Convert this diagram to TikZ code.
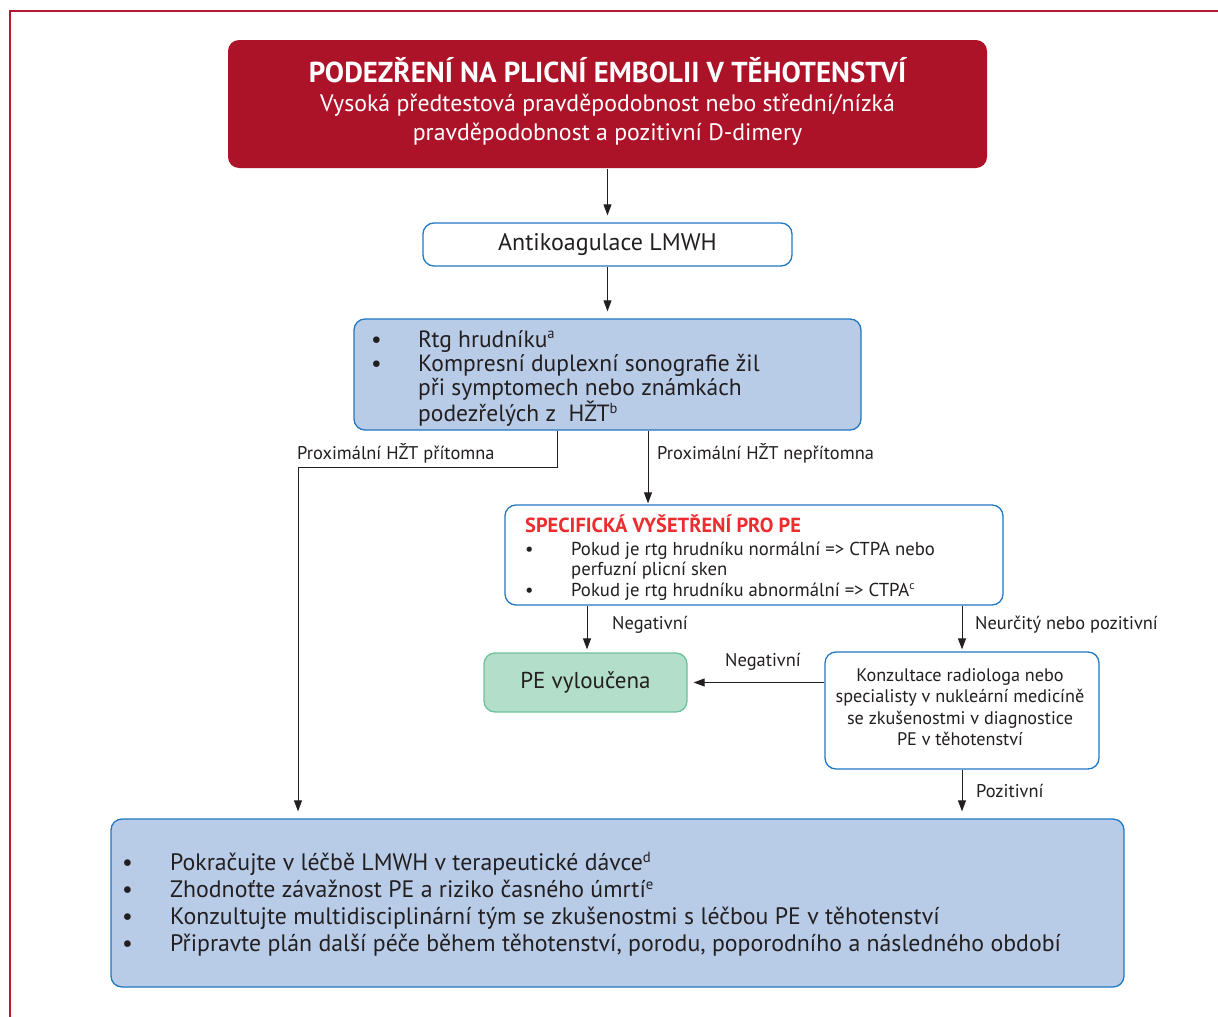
\documentclass[tikz,border=0pt]{standalone}
\usepackage{fontspec}
\usepackage{graphicx}
\setmainfont{PT Sans}
\usetikzlibrary{arrows.meta,calc}

\definecolor{escred}{HTML}{AD1328}
\definecolor{framered}{HTML}{B3182F}
\definecolor{alertred}{HTML}{EC2C2E}
\definecolor{boxblue}{HTML}{2079C2}
\definecolor{paleblue}{HTML}{B8CCE8}
\definecolor{greenedge}{HTML}{6CC29A}
\definecolor{palegreen}{HTML}{B3DEC9}
\definecolor{ink}{HTML}{231F20}

% bullet with hanging indent
\newcommand\bulA{\makebox[47pt][l]{•}}
\newcommand\bulB{\makebox[46pt][l]{•}}
\newcommand\bulC{\makebox[48pt][l]{•}}
% small footnote mark
\newcommand\fnmark[1]{\raisebox{0.7ex}{\scalebox{0.62}{#1}}}

\begin{document}
\begin{tikzpicture}[x=1pt,y=-1pt,
  txt/.style={text=ink, inner sep=0pt},
  flowbox/.style={rectangle, rounded corners=11pt, line width=1.3pt, inner sep=0pt},
  whitebox/.style={flowbox, draw=boxblue, fill=white},
  bluebox/.style={flowbox, draw=boxblue, fill=paleblue},
  greenbox/.style={flowbox, draw=greenedge, fill=palegreen},
  redbox/.style={flowbox, fill=escred},
  arr/.style={draw=ink, line width=1pt, -{Triangle[width=8pt,length=11pt]}},
  lbl/.style={txt, anchor=west, font=\fontsize{18.4}{22}\selectfont},
]
\useasboundingbox (0,0) rectangle (1218,1017);
\fill[white] (0,0) rectangle (1218,1017);

% page frame
\draw[framered, line width=2pt] (10,1017) -- (10,11) -- (1218,11);

% boxes
\node[redbox, minimum width=759pt, minimum height=128pt] (susp) at (607.5,104) {};
\node[whitebox, minimum width=369pt, minimum height=43pt] (anti) at (607.5,244.5) {};
\node[bluebox, minimum width=507pt, minimum height=111pt] (diag) at (607.5,374.5) {};
\node[whitebox, minimum width=498pt, minimum height=100pt] (spec) at (754,555) {};
\node[greenbox, minimum width=203pt, minimum height=59pt] (excl) at (585.5,682.5) {};
\node[whitebox, minimum width=274pt, minimum height=117pt] (cons) at (962,710.5) {};
\node[bluebox, minimum width=1013pt, minimum height=168pt] (treat) at (617.5,903) {};

% box texts
\node[txt, text=white, align=center, font=\fontsize{23.8}{29}\selectfont] (susptxt) at (607.5,101)
  {{\fontsize{28.8}{29}\selectfont\bfseries PODEZŘENÍ NA PLICNÍ EMBOLII V TĚHOTENSTVÍ}\\
   Vysoká předtestová pravděpodobnost nebo střední/nízká\\
   pravděpodobnost a pozitivní D-dimery};

\node[txt, font=\fontsize{24}{28}\selectfont] (antitxt) at (anti.center) {Antikoagulace LMWH};

\node[txt, anchor=north west, align=left, font=\fontsize{23.5}{24}\selectfont] (diagtxt) at (371,330)
  {\bulA Rtg hrudníku\fnmark{a}\\
   \bulA Kompresní duplexní sonografie žil\\
   \hspace*{47pt}při symptomech nebo známkách\\
   \hspace*{47pt}podezřelých z\ \ HŽT\fnmark{b}};

\node[txt, anchor=north west, align=left, font=\fontsize{18.7}{20.5}\selectfont] (spectxt) at (525,515)
  {{\fontsize{20.4}{20.5}\selectfont\bfseries\color{alertred}SPECIFICKÁ VYŠETŘENÍ PRO PE}\\[2pt]
   \bulB Pokud je rtg hrudníku normální => CTPA nebo\\
   \hspace*{46pt}perfuzní plicní sken\\
   \bulB Pokud je rtg hrudníku abnormální => CTPA\fnmark{c}};

\node[txt, font=\fontsize{23}{26}\selectfont] (excltxt) at (excl.center) {PE vyloučena};

\node[txt, align=center, font=\fontsize{18.2}{21.5}\selectfont] (constxt) at (960,707)
  {Konzultace radiologa nebo\\
   specialisty v nukleární medicíně\\
   se zkušenostmi v diagnostice\\
   PE v těhotenství};

\node[txt, anchor=north west, align=left, font=\fontsize{23.8}{27}\selectfont] (treattxt) at (122,852)
  {\bulC Pokračujte v léčbě LMWH v terapeutické dávce\fnmark{d}\\
   \bulC Zhodnoťte závažnost PE a riziko časného úmrtí\fnmark{e}\\
   \bulC Konzultujte multidisciplinární tým se zkušenostmi s léčbou PE v těhotenství\\
   \bulC Připravte plán další péče během těhotenství, porodu, poporodního a následného období};

% branch columns
\coordinate (presentx) at (557,0);
\coordinate (leftx) at (298,0);
\coordinate (absentx) at (648,0);
\coordinate (negx) at (587,0);
\coordinate (posx) at (962,0);
\coordinate (bend) at (557,467);

% connectors
\draw[arr, shorten >=7pt] (susp.south) -- (anti.north);
\draw[arr, shorten >=7pt] (anti.south) -- (diag.north);
\draw[arr, shorten >=7pt] (diag.south -| presentx) -- (bend) -- (bend -| leftx) -- (treat.north -| leftx);
\draw[arr, shorten >=1pt] (diag.south -| absentx) -- (spec.north -| absentx);
\draw[arr, shorten >=3pt] (spec.south -| negx) -- (excl.north -| negx);
\draw[arr, shorten >=2pt] (spec.south -| posx) -- (cons.north -| posx);
\draw[arr, shorten >=6pt] (cons.west |- excl.east) -- (excl.east);
\draw[arr, shorten >=7pt] (cons.south) -- (treat.north -| posx);

% connector labels
\node[lbl] (lpresent) at (297,453) {Proximální HŽT přítomna};
\node[lbl] (labsent) at (657,453) {Proximální HŽT nepřítomna};
\node[lbl] (lneg) at (612,625) {Negativní};
\node[lbl] (lunsure) at (975,625) {Neurčitý nebo pozitivní};
\node[lbl] (lneg2) at (725,662) {Negativní};
\node[lbl] (lpos) at (976,791) {Pozitivní};
\end{tikzpicture}
\end{document}
